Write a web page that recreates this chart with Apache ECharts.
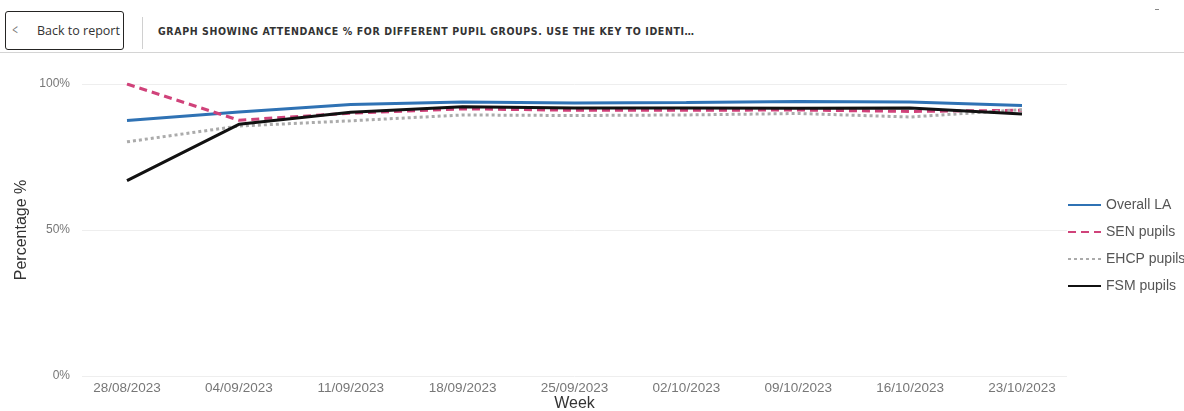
<!DOCTYPE html>
<html>
<head>
<meta charset="utf-8">
<script src="https://cdn.jsdelivr.net/npm/echarts@6/dist/echarts.min.js"></script>
<style>
  html, body { margin: 0; padding: 0; background: #fff; width: 1184px; height: 411px; overflow: hidden; }
  #chart { position: absolute; left: 0; top: 0; width: 1184px; height: 411px; }
  #header { position: absolute; left: 0; top: 0; width: 1184px; height: 52px; border-bottom: 1px solid #d4d4d4; z-index: 2; background: #fff; }
  #back { position: absolute; left: 5px; top: 11px; width: 119px; height: 39px; border: 1.5px solid #252423; border-radius: 3px; box-sizing: border-box; font-family: "Open Sans", "Liberation Sans", sans-serif; font-size: 12.5px; color: #333; }
  #back .chev { position: absolute; left: 5px; top: 8px; font-size: 14px; color: #777; transform: scaleX(0.7); }
  #back .txt { position: absolute; left: 31px; top: 10px; }
  #sep { position: absolute; left: 142px; top: 17px; width: 1px; height: 32px; background: #d0d0d0; }
  #title { position: absolute; left: 158px; top: 25px; font-family: "DejaVu Sans Condensed", "DejaVu Sans", sans-serif; font-weight: bold; font-size: 10.5px; letter-spacing: 0.6px; color: #333; white-space: nowrap; }
  #dash { position: absolute; left: 1155px; top: 9px; width: 4px; height: 1px; background: #888; }
</style>
</head>
<body>
<div id="chart"></div>
<div id="header">
  <div id="back"><span class="chev">&lt;</span><span class="txt">Back to report</span></div>
  <div id="sep"></div>
  <div id="title">GRAPH SHOWING ATTENDANCE % FOR DIFFERENT PUPIL GROUPS. USE THE KEY TO IDENTI…</div>
  <div id="dash"></div>
</div>
<script>
const weeks = ['28/08/2023','04/09/2023','11/09/2023','18/09/2023','25/09/2023','02/10/2023','09/10/2023','16/10/2023','23/10/2023'];
const overallLA = [87.5, 90.4, 93.0, 93.8, 93.5, 93.7, 94.0, 93.8, 92.6];
const senPupils = [100.0, 87.6, 90.0, 91.5, 91.0, 91.0, 91.1, 90.6, 91.0];
const ehcpPupils = [80.2, 85.6, 87.4, 89.4, 89.2, 89.4, 89.9, 88.7, 91.2];
const fsmPupils = [66.9, 86.2, 90.3, 92.2, 91.8, 91.8, 91.7, 91.8, 89.7];
const yTicks = [0, 50, 100];

const chart = echarts.init(document.getElementById('chart'), null, { renderer: 'canvas' });
const font = '"Liberation Sans", Arial, sans-serif';
chart.setOption({
  animation: false,
  backgroundColor: 'transparent',
  grid: [
    { left: 82, right: 117, top: 84, bottom: 35, outerBoundsMode: 'none', containLabel: false },
    { left: 127, right: 162, top: 84, bottom: 35, outerBoundsMode: 'none', containLabel: false }
  ],
  xAxis: [
    { gridIndex: 0, type: 'value', min: 0, max: 1, show: false },
    { gridIndex: 1, type: 'category', data: weeks, boundaryGap: false,
      axisLine: { show: false }, axisTick: { show: false },
      axisLabel: { color: '#777', fontSize: 13.5, fontFamily: font, margin: 5 },
      name: 'Week', nameLocation: 'middle', nameGap: 20, nameMoveOverlap: false,
      nameTextStyle: { color: '#333', fontSize: 16, fontFamily: font } }
  ],
  yAxis: [
    { gridIndex: 0, type: 'value', min: yTicks[0], max: yTicks[yTicks.length - 1], interval: yTicks[1] - yTicks[0],
      axisLine: { show: false }, axisTick: { show: false },
      axisLabel: { color: '#777', fontSize: 12, fontFamily: font, margin: 12, formatter: '{value}%' },
      splitLine: { lineStyle: { color: '#eeeeee', width: 1 } },
      name: 'Percentage %', nameLocation: 'middle', nameGap: 52, nameMoveOverlap: false,
      nameTextStyle: { color: '#333', fontSize: 16, fontFamily: font } },
    { gridIndex: 1, type: 'value', min: 0, max: 100, show: false }
  ],
  legend: {
    orient: 'vertical', left: 1067, top: 198, padding: 0, itemGap: 13, itemWidth: 33, itemHeight: 14,
    itemStyle: { opacity: 0 },
    lineStyle: { width: 2 },
    textStyle: { color: '#555', fontSize: 14, fontFamily: font }
  },
  series: [
    { name: 'Overall LA', type: 'line', xAxisIndex: 1, yAxisIndex: 1, data: overallLA, symbol: 'none',
      lineStyle: { color: '#2F72B4', width: 3 }, itemStyle: { color: '#2F72B4' } },
    { name: 'SEN pupils', type: 'line', xAxisIndex: 1, yAxisIndex: 1, data: senPupils, symbol: 'none',
      lineStyle: { color: '#D0427A', width: 3, type: [8, 5] }, itemStyle: { color: '#D0427A' } },
    { name: 'EHCP pupils', type: 'line', xAxisIndex: 1, yAxisIndex: 1, data: ehcpPupils, symbol: 'none',
      lineStyle: { color: '#ABABAB', width: 3, type: [3, 3] }, itemStyle: { color: '#ABABAB' } },
    { name: 'FSM pupils', type: 'line', xAxisIndex: 1, yAxisIndex: 1, data: fsmPupils, symbol: 'none',
      lineStyle: { color: '#111111', width: 3 }, itemStyle: { color: '#111111' } }
  ]
});
</script>
</body>
</html>
